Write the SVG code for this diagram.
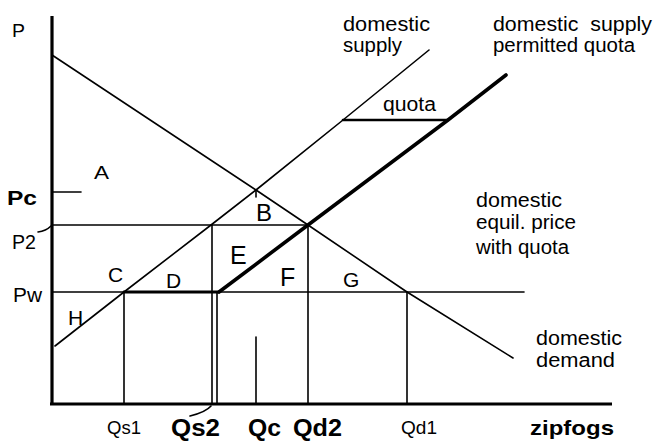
<svg xmlns="http://www.w3.org/2000/svg" width="655" height="442" viewBox="0 0 655 442">
<style>
.ln{fill:none;stroke:#000;stroke-width:1.6;stroke-linecap:round;stroke-linejoin:round}
.ax{fill:none;stroke:#000;stroke-width:3.2}
.tk{fill:none;stroke:#000;stroke-width:3.6;stroke-linecap:round}
.t{font-family:"Liberation Sans",Arial,sans-serif;fill:#000}
.b{font-weight:bold}
</style>
<rect width="655" height="442" fill="#fff"/>
<g id="axes">
<line class="ax" x1="52" y1="16" x2="52" y2="405"/>
<line class="ax" x1="50" y1="404" x2="612" y2="404"/>
</g>
<g id="curves">
<polyline id="demand" class="ln" points="52,55 256,190 308,225 407,292 513,358"/>
<polyline id="supply" class="ln" points="55,346 124,292 211,225 256,190 343,120 429,50"/>
<polyline id="supply-quota" class="tk" points="219,292 308,225 448,120 506,75"/>
</g>
<g id="lines">
<line class="ln" x1="52" y1="292" x2="524" y2="292"/>
<line class="ln" x1="124" y1="292" x2="219" y2="292" style="stroke-width:2.8"/>
<line class="ln" x1="52" y1="225" x2="308" y2="225"/>
<line class="ln" x1="343" y1="120" x2="448" y2="120" style="stroke-width:2.6"/>
<line class="ln" x1="52" y1="192" x2="81" y2="192"/>
<line class="ln" x1="256" y1="190" x2="256" y2="197"/>
<line class="ln" x1="124" y1="292" x2="124" y2="404"/>
<line class="ln" x1="212" y1="225" x2="212" y2="404"/>
<line class="ln" x1="217" y1="292" x2="217" y2="404"/>
<line class="ln" x1="256" y1="337" x2="256" y2="404"/>
<line class="ln" x1="308" y1="225" x2="308" y2="404"/>
<line class="ln" x1="407" y1="292" x2="407" y2="404"/>
<path class="ln" d="M38,232 Q46,231 51,226"/>
<path class="ln" d="M211,406 Q206,412 190,416"/>
</g>
<g id="labels">
<text class="t" x="12" y="37" font-size="19" textLength="13" lengthAdjust="spacingAndGlyphs">P</text>
<text class="t b" x="7" y="205" font-size="21" textLength="30" lengthAdjust="spacingAndGlyphs">Pc</text>
<text class="t" x="94" y="179" font-size="19" textLength="15" lengthAdjust="spacingAndGlyphs">A</text>
<text class="t" x="256" y="221" font-size="24">B</text>
<text class="t" x="12" y="249" font-size="20" textLength="24" lengthAdjust="spacingAndGlyphs">P2</text>
<text class="t" x="108" y="282" font-size="21">C</text>
<text class="t" x="166" y="288" font-size="21">D</text>
<text class="t" x="230" y="264" font-size="25">E</text>
<text class="t" x="280" y="286" font-size="25">F</text>
<text class="t" x="343" y="287" font-size="21">G</text>
<text class="t" x="13" y="302" font-size="20" textLength="29" lengthAdjust="spacingAndGlyphs">Pw</text>
<text class="t" x="68" y="325" font-size="21">H</text>
<text class="t" x="107" y="434" font-size="19" textLength="34" lengthAdjust="spacingAndGlyphs">Qs1</text>
<text class="t b" x="171" y="436" font-size="23" textLength="49" lengthAdjust="spacingAndGlyphs">Qs2</text>
<text class="t b" x="248" y="436" font-size="23" textLength="33" lengthAdjust="spacingAndGlyphs">Qc</text>
<text class="t b" x="293" y="436" font-size="23" textLength="49" lengthAdjust="spacingAndGlyphs">Qd2</text>
<text class="t" x="401" y="434" font-size="19" textLength="36" lengthAdjust="spacingAndGlyphs">Qd1</text>
<text class="t b" x="530" y="435" font-size="21" textLength="84" lengthAdjust="spacingAndGlyphs">zipfogs</text>
<text class="t" x="343" y="31" font-size="20" textLength="87" lengthAdjust="spacingAndGlyphs">domestic</text>
<text class="t" x="343" y="52" font-size="20" textLength="59" lengthAdjust="spacingAndGlyphs">supply</text>
<text class="t" x="493" y="31" font-size="20" textLength="159" lengthAdjust="spacingAndGlyphs" xml:space="preserve">domestic  supply</text>
<text class="t" x="493" y="52" font-size="20" textLength="142" lengthAdjust="spacingAndGlyphs">permitted quota</text>
<text class="t" x="383" y="111" font-size="20" textLength="53" lengthAdjust="spacingAndGlyphs">quota</text>
<text class="t" x="476" y="207" font-size="20" textLength="86" lengthAdjust="spacingAndGlyphs">domestic</text>
<text class="t" x="476" y="229" font-size="20" textLength="100" lengthAdjust="spacingAndGlyphs">equil. price</text>
<text class="t" x="476" y="254" font-size="20" textLength="93" lengthAdjust="spacingAndGlyphs">with quota</text>
<text class="t" x="536" y="345" font-size="20" textLength="86" lengthAdjust="spacingAndGlyphs">domestic</text>
<text class="t" x="536" y="367" font-size="20" textLength="79" lengthAdjust="spacingAndGlyphs">demand</text>
</g>
</svg>
